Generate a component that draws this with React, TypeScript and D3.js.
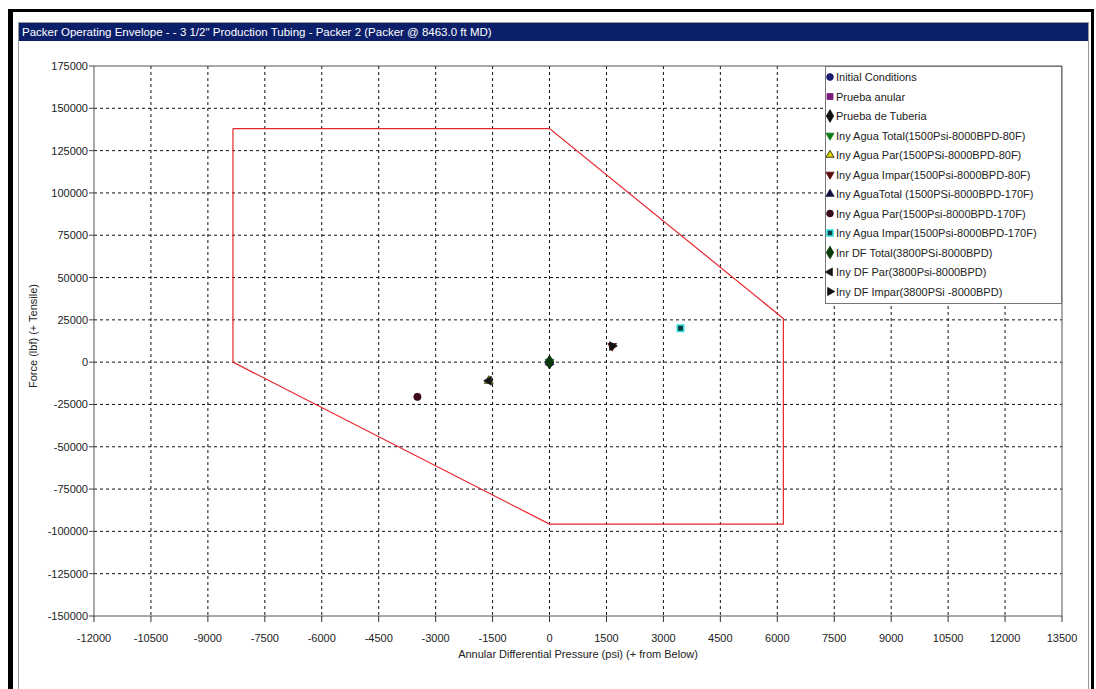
import * as d3 from "d3";
import React from "react";

// ---- data ----
const xTicks = [-12000, -10500, -9000, -7500, -6000, -4500, -3000, -1500, 0, 1500, 3000, 4500, 6000, 7500, 9000, 10500, 12000, 13500];
const yTicks = [175000, 150000, 125000, 100000, 75000, 50000, 25000, 0, -25000, -50000, -75000, -100000, -125000, -150000];

// packer envelope polygon
const envelopeX = [-8340, 0, 6160, 6160, 0, -8340, -8340];
const envelopeY = [138000, 138000, 25800, -95700, -95700, 0, 138000];

const seriesNames = [
  "Initial Conditions",
  "Prueba anular",
  "Prueba de Tuberia",
  "Iny Agua Total(1500Psi-8000BPD-80F)",
  "Iny Agua Par(1500PSi-8000BPD-80F)",
  "Iny Agua Impar(1500Psi-8000BPD-80F)",
  "Iny AguaTotal (1500PSi-8000BPD-170F)",
  "Iny Agua Par(1500Psi-8000BPD-170F)",
  "Iny Agua Impar(1500Psi-8000BPD-170F)",
  "Inr DF Total(3800PSi-8000BPD)",
  "Iny DF Par(3800Psi-8000BPD)",
  "Iny DF Impar(3800PSi -8000BPD)",
];
const seriesX = [0, 0, 0, 0, -1600, 1650, 0, -3480, 3450, 0, -1600, 1650];
const seriesY = [0, 0, 0, 0, -11000, 9500, 0, -20500, 20000, 0, -11000, 9500];
const seriesShape = ["circle", "square", "diamond", "down", "up", "down", "up", "circle", "square", "diamond", "left", "right"];
const seriesFill = ["#1c1c70", "#7a1a7a", "#101010", "#0f7a1f", "#d8d000", "#5a0a0a", "#101040", "#3a0a1a", "#0d3d3d", "#0a3a0a", "#151515", "#101010"];
const seriesStroke = ["#1c1c70", "#7a1a7a", "#101010", "#0f7a1f", "#202000", "#5a0a0a", "#101040", "#3a0a1a", "#30e0e0", "#0a3a0a", "#151515", "#101010"];

const W = 1096;
const H = 689;
const plot = { left: 94, right: 1062, top: 66, bottom: 616 };
const font = "'Liberation Sans', Arial, sans-serif";

const xScale = d3.scaleLinear().domain([-12000, 13500]).range([plot.left, plot.right]);
const yScale = d3.scaleLinear().domain([-150000, 175000]).range([plot.bottom, plot.top]);

function markerPath(shape: string, size: number) {
  if (shape === "circle") return { d: d3.symbol(d3.symbolCircle, size)()!, rot: 0 };
  if (shape === "square") return { d: d3.symbol(d3.symbolSquare, size)()!, rot: 0 };
  if (shape === "diamond") return { d: d3.symbol(d3.symbolDiamond, size * 1.3)()!, rot: 0 };
  const tri = d3.symbol(d3.symbolTriangle, size * 0.8)()!;
  const rot = shape === "up" ? 0 : shape === "down" ? 180 : shape === "left" ? -90 : 90;
  return { d: tri, rot };
}

function Marker({ i, x, y, size }: { i: number; x: number; y: number; size: number }) {
  const m = markerPath(seriesShape[i], size);
  return (
    <path
      d={m.d}
      transform={`translate(${x},${y}) rotate(${m.rot})`}
      fill={seriesFill[i]}
      stroke={seriesStroke[i]}
      strokeWidth={i === 8 ? 1.5 : 0.8}
    />
  );
}

function App() {
  const envLine = d3
    .line<number>()
    .x((d, i) => xScale(envelopeX[i]))
    .y((d, i) => yScale(envelopeY[i]));

  const legendX = 825;
  const legendTop = plot.top;
  const legendStep = 19.5;
  const legendBottom = 303;

  return (
    <svg width={W} height={H} style={{ position: "absolute", left: 0, top: 0, background: "#fff" }} fontFamily={font}>
      <rect x={0} y={0} width={W} height={H} fill="#fff" />
      {/* outer frame */}
      <line x1={10.5} y1={9} x2={10.5} y2={H} stroke="#000" strokeWidth={5} />
      <line x1={8} y1={10.5} x2={1094} y2={10.5} stroke="#000" strokeWidth={3} />
      <line x1={1092.5} y1={9} x2={1092.5} y2={H} stroke="#000" strokeWidth={3} />
      {/* panel */}
      <rect x={18.5} y={22.5} width={1070} height={700} fill="#fff" stroke="#9a9a9a" strokeWidth={1} />
      <rect x={19} y={23} width={1069} height={18} fill="#0c1f6b" />
      <text x={22} y={36} fill="#fff" fontSize={11.5}>
        Packer Operating Envelope - - 3 1/2" Production Tubing  - Packer 2 (Packer @ 8463.0 ft MD)
      </text>

      {/* grid */}
      {xTicks.slice(1, -1).map((t) => (
        <line key={"gx" + t} x1={xScale(t)} x2={xScale(t)} y1={plot.top} y2={plot.bottom} stroke="#111" strokeWidth={1} strokeDasharray="3,3" />
      ))}
      {yTicks.slice(1, -1).map((t) => (
        <line key={"gy" + t} x1={plot.left} x2={plot.right} y1={yScale(t)} y2={yScale(t)} stroke="#111" strokeWidth={1} strokeDasharray="3,3" />
      ))}

      {/* plot frame */}
      <rect x={plot.left} y={plot.top} width={plot.right - plot.left} height={plot.bottom - plot.top} fill="none" stroke="#555" strokeWidth={1} />

      {/* ticks and labels */}
      {yTicks.map((t) => (
        <g key={"ty" + t}>
          <line x1={plot.left - 5} x2={plot.left} y1={yScale(t)} y2={yScale(t)} stroke="#444" />
          <text x={plot.left - 6} y={yScale(t) + 4} textAnchor="end" fontSize={11} fill="#222">
            {t}
          </text>
        </g>
      ))}
      {xTicks.map((t) => (
        <g key={"tx" + t}>
          <line x1={xScale(t)} x2={xScale(t)} y1={plot.bottom} y2={plot.bottom + 6} stroke="#333" />
          <text x={xScale(t)} y={plot.bottom + 26} textAnchor="middle" fontSize={11} fill="#222">
            {t}
          </text>
        </g>
      ))}
      <text x={(plot.left + plot.right) / 2} y={658} textAnchor="middle" fontSize={11} fill="#222">
        Annular Differential Pressure (psi) (+ from Below)
      </text>
      <text transform={`translate(37,336) rotate(-90)`} textAnchor="middle" fontSize={11} fill="#222">
        Force (lbf) (+ Tensile)
      </text>

      {/* envelope */}
      <path d={envLine(envelopeX) || ""} fill="none" stroke="#e8262e" strokeWidth={1.2} />

      {/* data points */}
      {seriesNames.map((n, i) => (
        <Marker key={"p" + i} i={i} x={xScale(seriesX[i])} y={yScale(seriesY[i])} size={42} />
      ))}

      {/* legend */}
      <rect x={legendX + 0.5} y={legendTop + 0.5} width={plot.right - legendX - 1} height={legendBottom - legendTop} fill="#fff" stroke="#777" strokeWidth={1} />
      {seriesNames.map((n, i) => {
        const y = legendTop + 11 + i * legendStep;
        return (
          <g key={"l" + i}>
            <Marker i={i} x={legendX + 5} y={y} size={36} />
            <text x={legendX + 11} y={y + 4} fontSize={11} fill="#222">
              {n}
            </text>
          </g>
        );
      })}
    </svg>
  );
}

export default App;
